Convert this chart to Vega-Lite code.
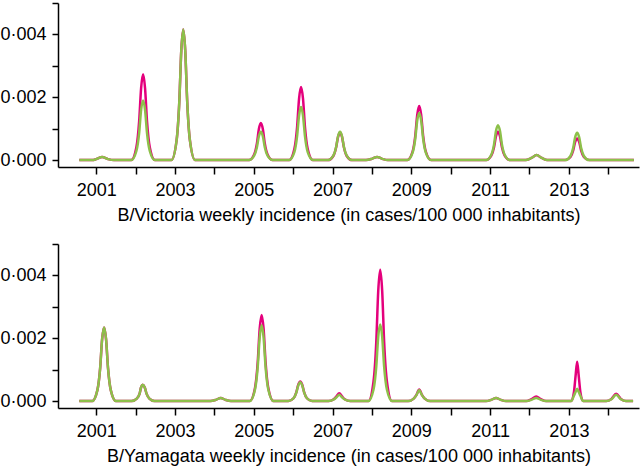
{
  "$schema": "https://vega.github.io/schema/vega-lite/v6.json",
  "padding": {"left": -1, "top": -6, "right": 3, "bottom": 3},
  "spacing": 11,
  "datasets": {
    "vic": [
      {"t": 2000.57, "m": 0, "g": 0},
      {"t": 2000.9, "m": 0, "g": 0},
      {"t": 2001.0, "m": 0.00003, "g": 0.00003},
      {"t": 2001.15, "m": 0.0001, "g": 0.0001},
      {"t": 2001.3, "m": 0.00003, "g": 0.00003},
      {"t": 2001.45, "m": 0, "g": 0},
      {"t": 2001.89, "m": 0, "g": 0},
      {"t": 2002.02, "m": 0.00041, "g": 0.00029},
      {"t": 2002.09, "m": 0.00123, "g": 0.00086},
      {"t": 2002.14, "m": 0.00229, "g": 0.0016},
      {"t": 2002.19, "m": 0.00273, "g": 0.0019},
      {"t": 2002.24, "m": 0.00229, "g": 0.0016},
      {"t": 2002.29, "m": 0.00123, "g": 0.00086},
      {"t": 2002.36, "m": 0.00041, "g": 0.00029},
      {"t": 2002.49, "m": 0, "g": 0},
      {"t": 2002.91, "m": 0, "g": 0},
      {"t": 2003.04, "m": 0.00062, "g": 0.00062},
      {"t": 2003.11, "m": 0.00187, "g": 0.00187},
      {"t": 2003.16, "m": 0.00349, "g": 0.00349},
      {"t": 2003.21, "m": 0.00416, "g": 0.00416},
      {"t": 2003.26, "m": 0.00349, "g": 0.00349},
      {"t": 2003.31, "m": 0.00187, "g": 0.00187},
      {"t": 2003.38, "m": 0.00062, "g": 0.00062},
      {"t": 2003.51, "m": 0, "g": 0},
      {"t": 2004.88, "m": 0, "g": 0},
      {"t": 2005.01, "m": 0.00018, "g": 0.00014},
      {"t": 2005.08, "m": 0.00053, "g": 0.00041},
      {"t": 2005.13, "m": 0.00099, "g": 0.00076},
      {"t": 2005.18, "m": 0.00118, "g": 0.0009},
      {"t": 2005.23, "m": 0.00099, "g": 0.00076},
      {"t": 2005.28, "m": 0.00053, "g": 0.00041},
      {"t": 2005.35, "m": 0.00018, "g": 0.00014},
      {"t": 2005.48, "m": 0, "g": 0},
      {"t": 2005.9, "m": 0, "g": 0},
      {"t": 2006.03, "m": 0.00035, "g": 0.00025},
      {"t": 2006.1, "m": 0.00105, "g": 0.00076},
      {"t": 2006.15, "m": 0.00196, "g": 0.00142},
      {"t": 2006.2, "m": 0.00233, "g": 0.00169},
      {"t": 2006.25, "m": 0.00196, "g": 0.00142},
      {"t": 2006.3, "m": 0.00105, "g": 0.00076},
      {"t": 2006.37, "m": 0.00035, "g": 0.00025},
      {"t": 2006.5, "m": 0, "g": 0},
      {"t": 2006.89, "m": 0, "g": 0},
      {"t": 2007.02, "m": 0.00013, "g": 0.00014},
      {"t": 2007.09, "m": 0.0004, "g": 0.00041},
      {"t": 2007.14, "m": 0.00074, "g": 0.00076},
      {"t": 2007.19, "m": 0.00088, "g": 0.0009},
      {"t": 2007.24, "m": 0.00074, "g": 0.00076},
      {"t": 2007.29, "m": 0.0004, "g": 0.00041},
      {"t": 2007.36, "m": 0.00013, "g": 0.00014},
      {"t": 2007.49, "m": 0, "g": 0},
      {"t": 2007.85, "m": 0, "g": 0},
      {"t": 2008.0, "m": 0.00004, "g": 0.00004},
      {"t": 2008.13, "m": 0.0001, "g": 0.0001},
      {"t": 2008.26, "m": 0.00004, "g": 0.00004},
      {"t": 2008.4, "m": 0, "g": 0},
      {"t": 2008.9, "m": 0, "g": 0},
      {"t": 2009.03, "m": 0.00026, "g": 0.00023},
      {"t": 2009.1, "m": 0.00077, "g": 0.00068},
      {"t": 2009.15, "m": 0.00144, "g": 0.00126},
      {"t": 2009.2, "m": 0.00172, "g": 0.0015},
      {"t": 2009.25, "m": 0.00144, "g": 0.00126},
      {"t": 2009.3, "m": 0.00077, "g": 0.00068},
      {"t": 2009.37, "m": 0.00026, "g": 0.00023},
      {"t": 2009.5, "m": 0, "g": 0},
      {"t": 2010.9, "m": 0, "g": 0},
      {"t": 2011.03, "m": 0.00014, "g": 0.00017},
      {"t": 2011.1, "m": 0.00041, "g": 0.0005},
      {"t": 2011.15, "m": 0.00076, "g": 0.00093},
      {"t": 2011.2, "m": 0.0009, "g": 0.00111},
      {"t": 2011.25, "m": 0.00076, "g": 0.00093},
      {"t": 2011.3, "m": 0.00041, "g": 0.0005},
      {"t": 2011.37, "m": 0.00014, "g": 0.00017},
      {"t": 2011.5, "m": 0, "g": 0},
      {"t": 2011.9, "m": 0, "g": 0},
      {"t": 2012.05, "m": 0.00007, "g": 0.00007},
      {"t": 2012.18, "m": 0.00016, "g": 0.00016},
      {"t": 2012.31, "m": 0.00007, "g": 0.00007},
      {"t": 2012.45, "m": 0, "g": 0},
      {"t": 2012.91, "m": 0, "g": 0},
      {"t": 2013.04, "m": 0.0001, "g": 0.00013},
      {"t": 2013.11, "m": 0.00031, "g": 0.00039},
      {"t": 2013.16, "m": 0.00058, "g": 0.00073},
      {"t": 2013.21, "m": 0.00069, "g": 0.00087},
      {"t": 2013.26, "m": 0.00058, "g": 0.00073},
      {"t": 2013.31, "m": 0.00031, "g": 0.00039},
      {"t": 2013.38, "m": 0.0001, "g": 0.00013},
      {"t": 2013.51, "m": 0, "g": 0},
      {"t": 2014.65, "m": 0, "g": 0}
    ],
    "yam": [
      {"t": 2000.57, "m": 0, "g": 0},
      {"t": 2000.9, "m": 0, "g": 0},
      {"t": 2001.03, "m": 0.00035, "g": 0.00035},
      {"t": 2001.1, "m": 0.00105, "g": 0.00105},
      {"t": 2001.15, "m": 0.00197, "g": 0.00197},
      {"t": 2001.2, "m": 0.00234, "g": 0.00234},
      {"t": 2001.25, "m": 0.00197, "g": 0.00197},
      {"t": 2001.3, "m": 0.00105, "g": 0.00105},
      {"t": 2001.37, "m": 0.00035, "g": 0.00035},
      {"t": 2001.5, "m": 0, "g": 0},
      {"t": 2001.9, "m": 0, "g": 0},
      {"t": 2002.03, "m": 0.00008, "g": 0.00008},
      {"t": 2002.1, "m": 0.00023, "g": 0.00023},
      {"t": 2002.14, "m": 0.00044, "g": 0.00044},
      {"t": 2002.18, "m": 0.00052, "g": 0.00052},
      {"t": 2002.23, "m": 0.00044, "g": 0.00044},
      {"t": 2002.28, "m": 0.00023, "g": 0.00023},
      {"t": 2002.35, "m": 0.00008, "g": 0.00008},
      {"t": 2002.48, "m": 0, "g": 0},
      {"t": 2003.9, "m": 0, "g": 0},
      {"t": 2004.04, "m": 0.00004, "g": 0.00004},
      {"t": 2004.16, "m": 0.0001, "g": 0.0001},
      {"t": 2004.28, "m": 0.00004, "g": 0.00004},
      {"t": 2004.42, "m": 0, "g": 0},
      {"t": 2004.9, "m": 0, "g": 0},
      {"t": 2005.03, "m": 0.00041, "g": 0.00036},
      {"t": 2005.1, "m": 0.00123, "g": 0.00108},
      {"t": 2005.15, "m": 0.0023, "g": 0.00202},
      {"t": 2005.2, "m": 0.00274, "g": 0.00241},
      {"t": 2005.25, "m": 0.0023, "g": 0.00202},
      {"t": 2005.3, "m": 0.00123, "g": 0.00108},
      {"t": 2005.37, "m": 0.00041, "g": 0.00036},
      {"t": 2005.5, "m": 0, "g": 0},
      {"t": 2005.88, "m": 0, "g": 0},
      {"t": 2006.01, "m": 0.00009, "g": 0.00009},
      {"t": 2006.08, "m": 0.00028, "g": 0.00027},
      {"t": 2006.13, "m": 0.00052, "g": 0.0005},
      {"t": 2006.18, "m": 0.00062, "g": 0.0006},
      {"t": 2006.23, "m": 0.00052, "g": 0.0005},
      {"t": 2006.28, "m": 0.00028, "g": 0.00027},
      {"t": 2006.35, "m": 0.00009, "g": 0.00009},
      {"t": 2006.48, "m": 0, "g": 0},
      {"t": 2006.9, "m": 0, "g": 0},
      {"t": 2007.03, "m": 0.00006, "g": 0.00005},
      {"t": 2007.1, "m": 0.00015, "g": 0.00012},
      {"t": 2007.17, "m": 0.00025, "g": 0.0002},
      {"t": 2007.24, "m": 0.00015, "g": 0.00012},
      {"t": 2007.31, "m": 0.00006, "g": 0.00005},
      {"t": 2007.45, "m": 0, "g": 0},
      {"t": 2007.91, "m": 0, "g": 0},
      {"t": 2008.04, "m": 0.00063, "g": 0.00037},
      {"t": 2008.11, "m": 0.00188, "g": 0.0011},
      {"t": 2008.16, "m": 0.00351, "g": 0.00205},
      {"t": 2008.21, "m": 0.00418, "g": 0.00244},
      {"t": 2008.26, "m": 0.00351, "g": 0.00205},
      {"t": 2008.31, "m": 0.00188, "g": 0.0011},
      {"t": 2008.38, "m": 0.00063, "g": 0.00037},
      {"t": 2008.51, "m": 0, "g": 0},
      {"t": 2008.92, "m": 0, "g": 0},
      {"t": 2009.06, "m": 0.00008, "g": 0.00008},
      {"t": 2009.13, "m": 0.0002, "g": 0.00019},
      {"t": 2009.2, "m": 0.00037, "g": 0.00035},
      {"t": 2009.27, "m": 0.0002, "g": 0.00019},
      {"t": 2009.34, "m": 0.00008, "g": 0.00008},
      {"t": 2009.48, "m": 0, "g": 0},
      {"t": 2010.9, "m": 0, "g": 0},
      {"t": 2011.03, "m": 0.00004, "g": 0.00004},
      {"t": 2011.15, "m": 0.0001, "g": 0.0001},
      {"t": 2011.27, "m": 0.00004, "g": 0.00004},
      {"t": 2011.4, "m": 0, "g": 0},
      {"t": 2011.92, "m": 0, "g": 0},
      {"t": 2012.05, "m": 0.00006, "g": 0.00004},
      {"t": 2012.17, "m": 0.00015, "g": 0.0001},
      {"t": 2012.29, "m": 0.00006, "g": 0.00004},
      {"t": 2012.42, "m": 0, "g": 0},
      {"t": 2013.06, "m": 0, "g": 0},
      {"t": 2013.13, "m": 0.0003, "g": 0.00018},
      {"t": 2013.17, "m": 0.0008, "g": 0.00029},
      {"t": 2013.21, "m": 0.00125, "g": 0.00039},
      {"t": 2013.25, "m": 0.0008, "g": 0.00029},
      {"t": 2013.29, "m": 0.0003, "g": 0.00018},
      {"t": 2013.36, "m": 0, "g": 0},
      {"t": 2013.95, "m": 0, "g": 0},
      {"t": 2014.08, "m": 0.00007, "g": 0.00006},
      {"t": 2014.2, "m": 0.00023, "g": 0.0002},
      {"t": 2014.32, "m": 0.00007, "g": 0.00006},
      {"t": 2014.45, "m": 0, "g": 0},
      {"t": 2014.63, "m": 0, "g": 0}
    ]
  },
  "vconcat": [
    {
      "width": 581,
      "height": 164,
      "data": {"name": "vic"},
      "encoding": {
        "x": {"field": "t", "type": "quantitative",
          "scale": {"domain": [2000.03, 2014.78], "nice": false, "zero": false},
          "axis": {"title": "B/Victoria weekly incidence (in cases/100 000 inhabitants)", "values": [2001,2002,2003,2004,2005,2006,2007,2008,2009,2010,2011,2012,2013,2014], "format": "d", "tickSize": 7, "labelPadding": 7, "labelExpr": "datum.value % 2 == 1 ? datum.label : ''"}}
      },
      "layer": [
        {"mark": {"type": "line", "color": "#e4007c", "strokeWidth": 2.5, "interpolate": "monotone"},
         "encoding": {"y": {"field": "m", "type": "quantitative", "scale": {"domain": [-0.00022, 0.005], "nice": false, "zero": false},
           "axis": {"title": null, "values": [0,0.001,0.002,0.003,0.004,0.005], "labelExpr": "(round(datum.value*1000) % 2 == 0 && datum.value < 0.0045) ? replace(format(datum.value, '.3f'), '.', '·') : ''"}}}},
        {"mark": {"type": "line", "color": "#8dc04a", "strokeWidth": 2.5, "interpolate": "monotone"},
         "encoding": {"y": {"field": "g", "type": "quantitative", "scale": {"domain": [-0.00022, 0.005], "nice": false, "zero": false},
           "axis": {"title": null, "values": [0,0.001,0.002,0.003,0.004,0.005], "labelExpr": "(round(datum.value*1000) % 2 == 0 && datum.value < 0.0045) ? replace(format(datum.value, '.3f'), '.', '·') : ''"}}}}
      ]
    },
    {
      "width": 581,
      "height": 164,
      "data": {"name": "yam"},
      "encoding": {
        "x": {"field": "t", "type": "quantitative",
          "scale": {"domain": [2000.03, 2014.78], "nice": false, "zero": false},
          "axis": {"title": "B/Yamagata weekly incidence (in cases/100 000 inhabitants)", "values": [2001,2002,2003,2004,2005,2006,2007,2008,2009,2010,2011,2012,2013,2014], "format": "d", "tickSize": 7, "labelPadding": 7, "labelExpr": "datum.value % 2 == 1 ? datum.label : ''"}}
      },
      "layer": [
        {"mark": {"type": "line", "color": "#e4007c", "strokeWidth": 2.5, "interpolate": "monotone"},
         "encoding": {"y": {"field": "m", "type": "quantitative", "scale": {"domain": [-0.00022, 0.005], "nice": false, "zero": false},
           "axis": {"title": null, "values": [0,0.001,0.002,0.003,0.004,0.005], "labelExpr": "(round(datum.value*1000) % 2 == 0 && datum.value < 0.0045) ? replace(format(datum.value, '.3f'), '.', '·') : ''"}}}},
        {"mark": {"type": "line", "color": "#8dc04a", "strokeWidth": 2.5, "interpolate": "monotone"},
         "encoding": {"y": {"field": "g", "type": "quantitative", "scale": {"domain": [-0.00022, 0.005], "nice": false, "zero": false},
           "axis": {"title": null, "values": [0,0.001,0.002,0.003,0.004,0.005], "labelExpr": "(round(datum.value*1000) % 2 == 0 && datum.value < 0.0045) ? replace(format(datum.value, '.3f'), '.', '·') : ''"}}}}
      ]
    }
  ],
  "config": {
    "font": "Liberation Sans",
    "view": {"stroke": null},
    "axis": {
      "grid": false,
      "domainColor": "#000",
      "domainWidth": 1.5,
      "tickColor": "#000",
      "tickWidth": 1.5,
      "tickSize": 6,
      "labelColor": "#000",
      "labelFontSize": 18,
      "labelPadding": 6,
      "labelFlush": false,
      "labelOverlap": false,
      "titleColor": "#000",
      "titleFontSize": 18,
      "titleFontWeight": "normal",
      "titlePadding": 7
    }
  }
}
